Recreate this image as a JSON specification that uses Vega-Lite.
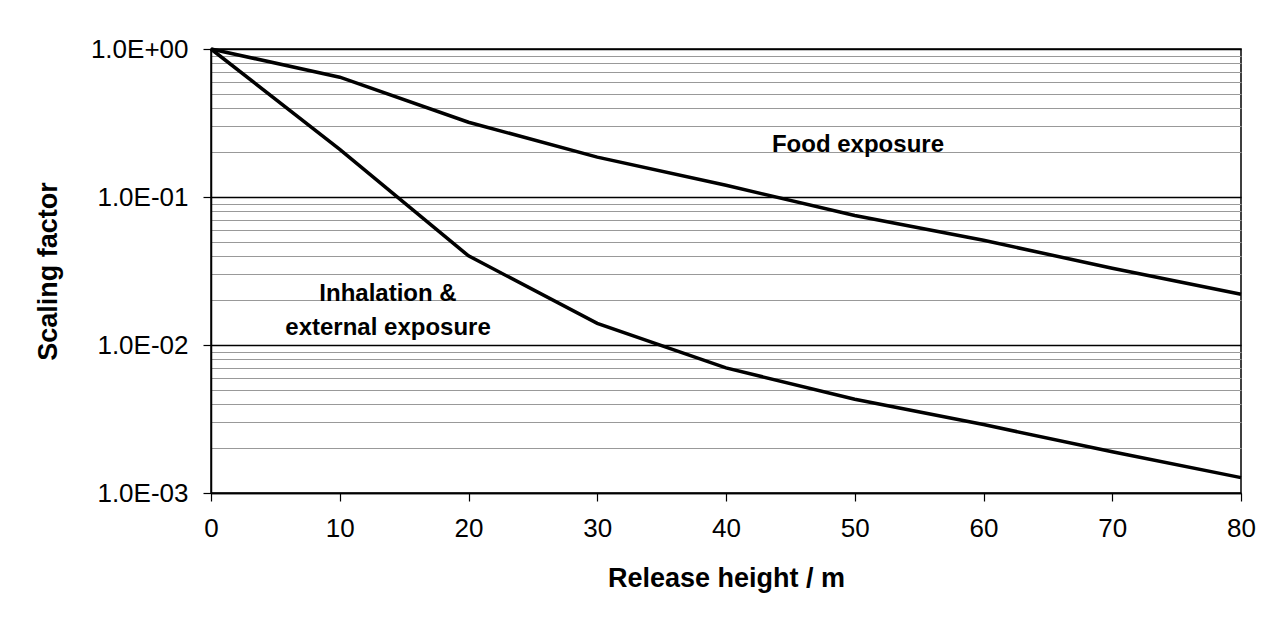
{
  "$schema": "https://vega.github.io/schema/vega-lite/v6.json",
  "width": 1030,
  "height": 444,
  "autosize": {"type": "none"},
  "padding": {"left": 211, "top": 49, "right": 41, "bottom": 128},
  "background": "white",
  "config": {
    "font": "Liberation Sans",
    "view": {"stroke": "black", "strokeWidth": 1.5}
  },
  "datasets": {
    "curves": [
      {"height": 0, "factor": 1.0, "series": "Food exposure"},
      {"height": 10, "factor": 0.645, "series": "Food exposure"},
      {"height": 20, "factor": 0.32, "series": "Food exposure"},
      {"height": 30, "factor": 0.186, "series": "Food exposure"},
      {"height": 40, "factor": 0.12, "series": "Food exposure"},
      {"height": 50, "factor": 0.075, "series": "Food exposure"},
      {"height": 60, "factor": 0.051, "series": "Food exposure"},
      {"height": 70, "factor": 0.033, "series": "Food exposure"},
      {"height": 80, "factor": 0.022, "series": "Food exposure"},
      {"height": 0, "factor": 1.0, "series": "Inhalation"},
      {"height": 10, "factor": 0.21, "series": "Inhalation"},
      {"height": 20, "factor": 0.04, "series": "Inhalation"},
      {"height": 30, "factor": 0.014, "series": "Inhalation"},
      {"height": 40, "factor": 0.007, "series": "Inhalation"},
      {"height": 50, "factor": 0.0043, "series": "Inhalation"},
      {"height": 60, "factor": 0.0029, "series": "Inhalation"},
      {"height": 70, "factor": 0.0019, "series": "Inhalation"},
      {"height": 80, "factor": 0.00127, "series": "Inhalation"}
    ],
    "labels": [
      {"height": 50.25, "factor": 0.224, "text": "Food exposure"},
      {"height": 13.75, "factor": 0.0221, "text": "Inhalation &"},
      {"height": 13.75, "factor": 0.013, "text": "external exposure"}
    ]
  },
  "layer": [
    {
      "data": {"name": "curves"},
      "mark": {"type": "line", "color": "black", "strokeWidth": 3.5, "clip": false},
      "encoding": {
        "x": {
          "field": "height",
          "type": "quantitative",
          "scale": {"domain": [0, 80], "nice": false, "zero": false},
          "axis": {
            "values": [0, 10, 20, 30, 40, 50, 60, 70, 80],
            "grid": false,
            "title": "Release height / m",
            "titleFont": "Liberation Sans",
            "titleFontSize": 27,
            "titleFontWeight": "bold",
            "titleColor": "black",
            "titlePadding": 24,
            "labelFont": "Liberation Sans",
            "labelFontSize": 26,
            "labelColor": "black",
            "labelPadding": 14,
            "labelFlush": false,
            "domainColor": "black",
            "domainWidth": 1.5,
            "tickColor": "black",
            "tickSize": 8,
            "tickWidth": 1.2
          }
        },
        "y": {
          "field": "factor",
          "type": "quantitative",
          "scale": {"type": "log", "domain": [0.001, 1], "nice": false},
          "axis": {
            "values": [0.001, 0.002, 0.003, 0.004, 0.005, 0.006, 0.007, 0.008, 0.009, 0.01, 0.02, 0.03, 0.04, 0.05, 0.06, 0.07, 0.08, 0.09, 0.1, 0.2, 0.3, 0.4, 0.5, 0.6, 0.7, 0.8, 0.9, 1],
            "grid": true,
            "gridColor": {"condition": {"test": "indexof([1, 0.1, 0.01, 0.001], datum.value) >= 0", "value": "black"}, "value": "#999999"},
            "gridWidth": {"condition": {"test": "indexof([1, 0.1, 0.01, 0.001], datum.value) >= 0", "value": 1.3}, "value": 1.2},
            "gridOpacity": 1,
            "tickOpacity": {"condition": {"test": "indexof([1, 0.1, 0.01, 0.001], datum.value) >= 0", "value": 1}, "value": 0},
            "labelExpr": "datum.value == 1 ? '1.0E+00' : datum.value == 0.1 ? '1.0E-01' : datum.value == 0.01 ? '1.0E-02' : datum.value == 0.001 ? '1.0E-03' : ''",
            "labelOverlap": false,
            "labelFont": "Liberation Sans",
            "labelFontSize": 26,
            "labelColor": "black",
            "labelPadding": 15,
            "title": "Scaling factor",
            "titleFont": "Liberation Sans",
            "titleFontSize": 27,
            "titleFontWeight": "bold",
            "titleColor": "black",
            "titlePadding": 28,
            "domainColor": "black",
            "domainWidth": 1.5,
            "tickColor": "black",
            "tickSize": 8,
            "tickWidth": 1.2
          }
        },
        "detail": {"field": "series"}
      }
    },
    {
      "data": {"name": "labels"},
      "mark": {"type": "text", "font": "Liberation Sans", "fontSize": 24, "fontWeight": "bold", "color": "black", "align": "center", "baseline": "middle"},
      "encoding": {
        "x": {"field": "height", "type": "quantitative"},
        "y": {"field": "factor", "type": "quantitative"},
        "text": {"field": "text"}
      }
    }
  ]
}
